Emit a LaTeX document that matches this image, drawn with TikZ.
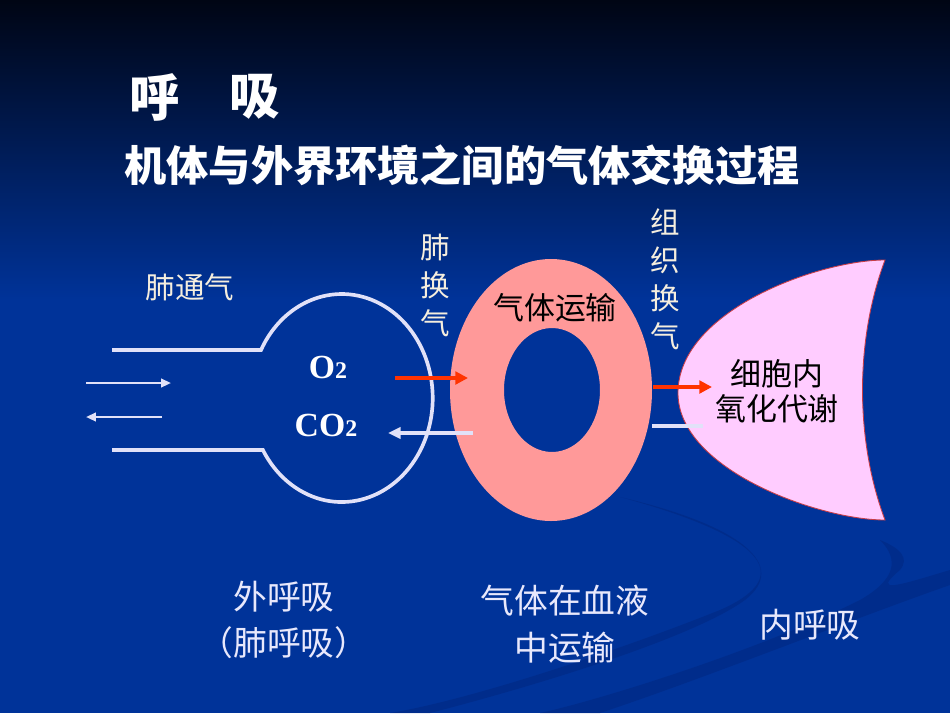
\documentclass[tikz,border=0pt]{standalone}
\usepackage{fontspec}
\newfontfamily\cjk{Noto Sans CJK SC}
\newfontfamily\serifb{Liberation Serif}
\usetikzlibrary{arrows.meta}
\definecolor{bgblue}{RGB}{0,51,153}
\definecolor{bgtop}{RGB}{0,5,20}
\definecolor{swoosh}{RGB}{0,40,130}
\definecolor{ringpink}{RGB}{255,153,153}
\definecolor{cellpink}{RGB}{255,204,255}
\definecolor{celledge}{RGB}{200,60,70}
\definecolor{linewhite}{RGB}{225,225,248}
\definecolor{cream}{RGB}{245,238,222}
\definecolor{lav}{RGB}{232,232,252}
\definecolor{arrred}{RGB}{255,51,0}
\tikzset{
  titletext/.style={text=white,font={\cjk\bfseries\fontsize{36}{40}\selectfont},inner sep=0pt},
  subtitle/.style={text=white,font={\cjk\bfseries\fontsize{30}{34}\selectfont},inner sep=0pt},
  creamlabel/.style={text=cream,font={\cjk\fontsize{21}{27}\selectfont},inner sep=0pt,align=center},
  blacklabel/.style={text=black,font={\cjk\fontsize{22}{25}\selectfont},inner sep=0pt,align=center},
  bottomlabel/.style={text=lav,font={\cjk\fontsize{24}{33}\selectfont},inner sep=0pt,align=center},
  chem/.style={text=white,font={\serifb\bfseries\fontsize{24}{26}\selectfont},inner sep=0pt},
  tube/.style={draw=linewhite,line width=2.6pt},
  thinarr/.style={draw=linewhite,line width=1.6pt,-{Triangle[length=7pt,width=6pt]}},
  whitearr/.style={draw=linewhite,line width=2.2pt,-{Triangle[length=9pt,width=8pt]}},
  redarr/.style={draw=arrred,line width=2.8pt,-{Triangle[length=9pt,width=9pt]}},
}
\begin{document}
\begin{tikzpicture}[x=0.025cm,y=-0.025cm]
\useasboundingbox (0,0) rectangle (950,713);
% background
\fill[bgblue] (0,0) rectangle (950,713);
\shade[top color=bgtop,bottom color=bgblue] (0,0) rectangle (950,300);
% faint swooshes
\fill[swoosh,opacity=0.6] (620,497) .. controls (760,535) and (800,575) .. (720,610)
  .. controls (620,650) and (470,700) .. (390,713) -- (430,713)
  .. controls (520,690) and (690,640) .. (745,600)
  .. controls (790,565) and (740,525) .. (620,497) -- cycle;
\fill[swoosh,opacity=0.6] (880,540) .. controls (900,560) and (895,580) .. (860,600)
  .. controls (760,650) and (600,700) .. (540,713) -- (600,713)
  .. controls (700,680) and (850,620) .. (950,585) -- (950,570)
  .. controls (900,585) and (870,595) .. (900,570) .. controls (910,558) and (900,548) .. (880,540) -- cycle;
% title
\node[titletext] (t1) at (155,97) {呼};
\node[titletext] (t2) at (255,97) {吸};
\node[subtitle] (sub) at (462,165) {机体与外界环境之间的气体交换过程};
% lung
\draw[tube] (112,350) -- (261,350) arc[start angle=207.5,end angle=510,x radius=91,y radius=104] -- (112,450);
\coordinate (inA) at (86,383); \coordinate (inB) at (171,383);
\coordinate (outA) at (162,417); \coordinate (outB) at (86,417);
\draw[thinarr] (inA) -- (inB);
\draw[thinarr] (outA) -- (outB);
\node[chem] (o2) at (328,367) {O\fontsize{17}{20}\selectfont 2};
\node[chem] (co2) at (326,425) {CO\fontsize{17}{20}\selectfont 2};
\node[creamlabel] (fty) at (190,287) {肺通气};
\node[creamlabel] (fhq) at (435,285) {肺\\换\\气};
% blood ring
\fill[ringpink,even odd rule] (551,390) ellipse [x radius=101,y radius=131]
  (552,390) ellipse [x radius=48,y radius=62];
\node[blacklabel] (qtys) at (555,308) {气体运输};
\coordinate (r1a) at (395,378); \coordinate (r1b) at (468,378);
\draw[redarr] (r1a) -- (r1b);
\coordinate (w1a) at (473,433); \coordinate (w1b) at (388,433);
\draw[whitearr] (w1a) -- (w1b);
% cell
\filldraw[fill=cellpink,draw=celledge,line width=0.6pt] (885,260)
  .. controls (820,260) and (678,310) .. (678,393)
  .. controls (678,470) and (820,520) .. (885,520)
  .. controls (855,440) and (855,340) .. (885,260) -- cycle;
\node[blacklabel] (cell) at (777,391) {细胞内\\氧化代谢};
\node[creamlabel] (zzhq) at (665,279) {组\\织\\换\\气};
\coordinate (r2a) at (653,387); \coordinate (r2b) at (712,387);
\draw[redarr] (r2a) -- (r2b);
\coordinate (w2a) at (652,426); \coordinate (w2b) at (703,426);
\draw[draw=linewhite,line width=2.2pt] (w2a) -- (w2b);
% bottom labels
\node[bottomlabel] (b1) at (284,620) {外呼吸\\（肺呼吸）};
\node[bottomlabel] (b2) at (565,624) {气体在血液\\中运输};
\node[bottomlabel] (b3) at (810,625) {内呼吸};
\end{tikzpicture}
\end{document}
